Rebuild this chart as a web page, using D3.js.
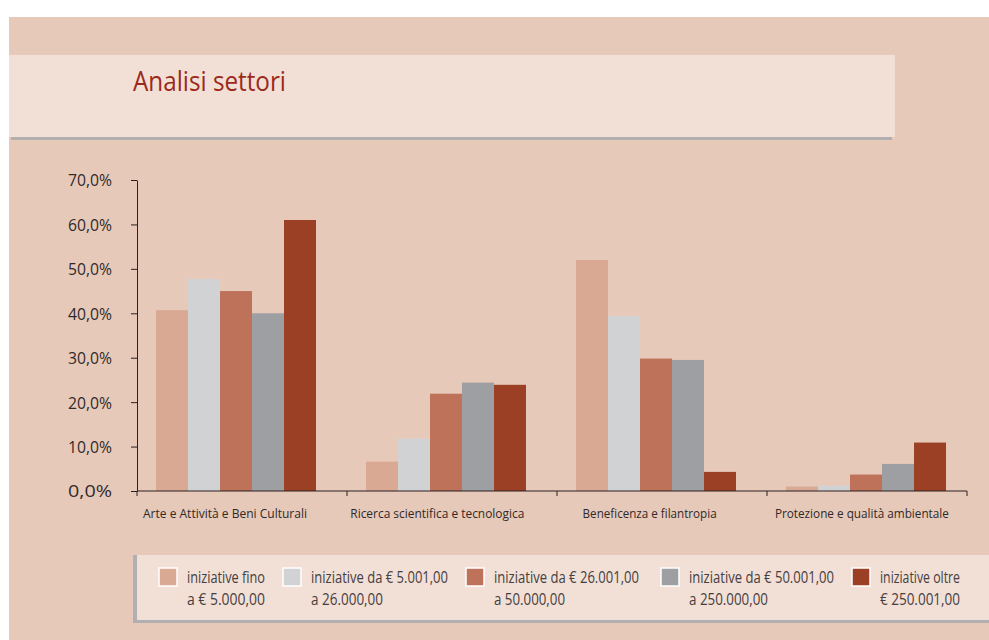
<!DOCTYPE html>
<html><head><meta charset="utf-8">
<script src="https://cdn.jsdelivr.net/npm/d3@7"></script>
<style>
html,body{margin:0;padding:0;background:#fff;}
svg{display:block;}
text{font-family:"Open Sans",sans-serif;}
</style></head>
<body>
<script>
const categories = ["Arte e Attività e Beni Culturali","Ricerca scientifica e tecnologica","Beneficenza e filantropia","Protezione e qualità ambientale"];
const seriesNames = [
  ["iniziative fino","a € 5.000,00"],
  ["iniziative da € 5.001,00","a 26.000,00"],
  ["iniziative da € 26.001,00","a 50.000,00"],
  ["iniziative da € 50.001,00","a 250.000,00"],
  ["iniziative oltre","€ 250.001,00"]
];
const s1 = [40.7, 6.6, 52.0, 1.0];
const s2 = [47.7, 11.8, 39.4, 1.2];
const s3 = [45.0, 21.9, 29.8, 3.7];
const s4 = [40.0, 24.4, 29.5, 6.1];
const s5 = [61.0, 23.9, 4.3, 10.9];
const seriesValues = [s1,s2,s3,s4,s5];
const yTicks = [0,10,20,30,40,50,60,70];
const colors = ["#D9A994","#D1D2D4","#BD7259","#9E9FA3","#9C4025"];

const W=989,H=640;
const svg=d3.select("body").append("svg").attr("width",W).attr("height",H);
svg.append("rect").attr("x",9).attr("y",17).attr("width",W-9).attr("height",H-17).attr("fill","#E7C9B9");
// title box
svg.append("rect").attr("x",11).attr("y",137).attr("width",881).attr("height",3).attr("fill","#B1AFB0");
svg.append("rect").attr("x",9).attr("y",55).attr("width",886).attr("height",82).attr("fill","#F2DFD6");
svg.append("text").attr("x",133).attr("y",91).attr("fill","#9B2A1A").attr("font-size",27)
  .attr("textLength",153).attr("lengthAdjust","spacingAndGlyphs").text("Analisi settori");

const x0=d3.scaleBand().domain(categories).range([137,137+4*210]).paddingInner(0).paddingOuter(0);
const y=d3.scaleLinear().domain([0,70]).range([491,180]);
const x1=d3.scaleBand().domain(d3.range(5)).range([19,179]).padding(0);

const g=svg.append("g");
categories.forEach((c,ci)=>{
  seriesValues.forEach((vals,si)=>{
    g.append("rect").attr("x",x0(c)+x1(si)).attr("y",y(vals[ci]))
     .attr("width",x1.bandwidth()).attr("height",y(0)-y(vals[ci])).attr("fill",colors[si]);
  });
});

// y axis
const yAxis=d3.axisLeft(y).tickValues(yTicks).tickSize(6).tickSizeOuter(0)
  .tickFormat(d=>d3.format(".1f")(d).replace(".",",")+"%");
const ya=svg.append("g").attr("transform","translate(137,0)").call(yAxis);
ya.select(".domain").attr("stroke","#2a2020");
ya.selectAll(".tick line").attr("stroke","#2a2020");
ya.selectAll(".tick text").attr("x",-25).attr("dy","0.36em").attr("fill","#2f2a2a").attr("font-size",16.5).attr("font-family","Open Sans")
  .attr("textLength",44).attr("lengthAdjust","spacingAndGlyphs");

// x axis
const xEnd = x0(categories[3])+200;
svg.append("line").attr("x1",137).attr("x2",xEnd).attr("y1",491).attr("y2",491).attr("stroke","#2a2020");
const tickXs = categories.map(c=>x0(c)).concat([xEnd]);
svg.selectAll(".xt").data(tickXs).enter().append("line").attr("x1",d=>d).attr("x2",d=>d)
  .attr("y1",491).attr("y2",496).attr("stroke","#2a2020");
const labelW=[164,174,134,174];
svg.selectAll(".xl").data(categories).enter().append("text")
  .attr("x",(d,i)=>x0(d)+88+i*2.3).attr("y",518).attr("text-anchor","middle")
  .attr("font-size",13.5).attr("fill","#2f2a2a")
  .attr("textLength",(d,i)=>labelW[i]).attr("lengthAdjust","spacingAndGlyphs").text(d=>d);

// legend
svg.append("rect").attr("x",133).attr("y",555).attr("width",W-133).attr("height",68).attr("fill","#B1AFB0");
svg.append("rect").attr("x",137).attr("y",555).attr("width",W-137).attr("height",65).attr("fill","#F2DFD6");
const legX=[159,283,466,661,852];
const legW=[[78,78],[137,72],[145,71],[145,79],[80,80]];
seriesNames.forEach((n,i)=>{
  svg.append("rect").attr("x",legX[i]).attr("y",568).attr("width",18).attr("height",18)
    .attr("fill",colors[i]).attr("stroke","#fff").attr("stroke-width",1.5);
  n.forEach((line,li)=>{
    svg.append("text").attr("x",legX[i]+28).attr("y",583+li*22).attr("font-size",15.5).attr("fill","#454040")
      .attr("textLength",legW[i][li]).attr("lengthAdjust","spacingAndGlyphs").text(line);
  });
});
</script>
</body></html>
